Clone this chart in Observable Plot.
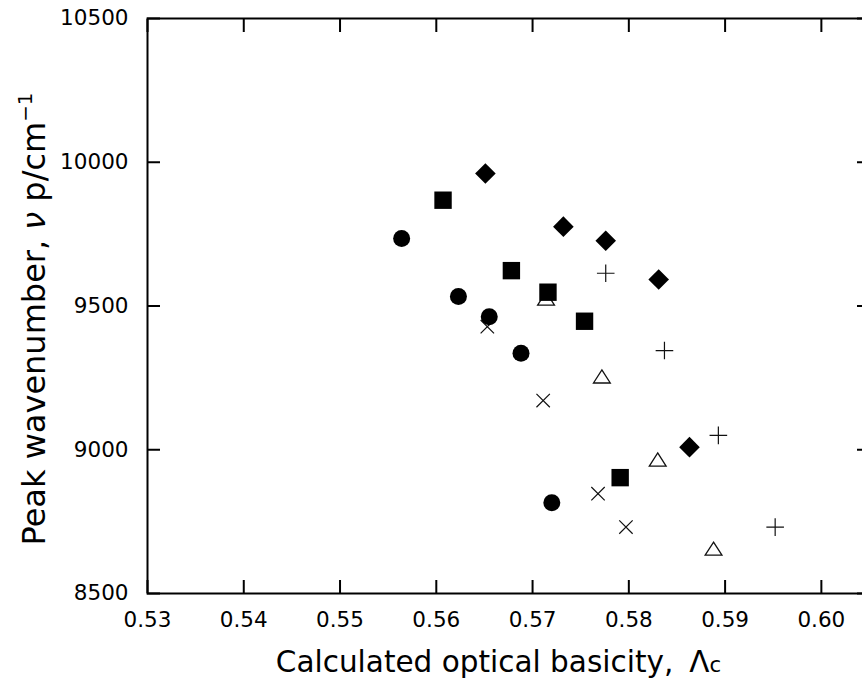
<!DOCTYPE html>
<html><head><meta charset="utf-8">
<script src="https://cdn.jsdelivr.net/npm/d3@7"></script>
<script src="https://cdn.jsdelivr.net/npm/@observablehq/plot@0.6"></script>
<style>
html,body{margin:0;padding:0;background:#fff;overflow:hidden;}
#chart svg{max-width:none !important;display:block;}
</style></head><body><div id="chart"></div>
<script>
const xTicks = [0.53, 0.54, 0.55, 0.56, 0.57, 0.58, 0.59, 0.60];
const yTicks = [8500, 9000, 9500, 10000, 10500];

const circleX = [0.5564, 0.5623, 0.5655, 0.5688, 0.5720];
const circleY = [9735, 9533, 9463, 9336, 8816];
const squareX = [0.5607, 0.5678, 0.5716, 0.5754, 0.5791];
const squareY = [9868, 9623, 9548, 9447, 8903];
const diamondX = [0.5651, 0.5732, 0.5776, 0.5831, 0.5863];
const diamondY = [9961, 9776, 9727, 9592, 9009];
const timesX = [0.5653, 0.5711, 0.5768, 0.5797];
const timesY = [9428, 9171, 8847, 8731];
const triangleX = [0.5714, 0.5772, 0.5830, 0.5888];
const triangleY = [9526, 9255, 8966, 8656];
const plusX = [0.5776, 0.5837, 0.5893, 0.5952];
const plusY = [9614, 9345, 9050, 8731];

const xTitle = "Calculated optical basicity,";
const yTitle = "Peak wavenumber,";

const rows = (xs, ys) => xs.map((x, i) => ({x, y: ys[i]}));

const R = s => Math.sqrt(s / Math.PI);
const symCircle = {draw(c, s) { const r = R(s); c.moveTo(r, 0); c.arc(0, 0, r, 0, 2 * Math.PI); c.closePath(); }};
const symSquare = {draw(c, s) { const r = R(s); c.rect(-r, -r, 2 * r, 2 * r); }};
const symDiamond = {draw(c, s) { const r = R(s); c.moveTo(0, -r); c.lineTo(r, 0); c.lineTo(0, r); c.lineTo(-r, 0); c.closePath(); }};
const symPlus = {draw(c, s) { const r = R(s); c.moveTo(-r, 0); c.lineTo(r, 0); c.moveTo(0, -r); c.lineTo(0, r); }};
const symTimes = {draw(c, s) { const r = R(s); c.moveTo(-r, -r); c.lineTo(r, r); c.moveTo(-r, r); c.lineTo(r, -r); }};
const symTriangle = {draw(c, s) { const r = R(s); const h = r * 0.78; c.moveTo(0, -h); c.lineTo(r, h); c.lineTo(-r, h); c.closePath(); }};

const font = "'DejaVu Sans', sans-serif";
const tickLen = -13;

const svg = Plot.plot({
  width: 880,
  height: 688,
  marginLeft: 147,
  marginRight: 11,
  marginTop: 18,
  marginBottom: 95,
  style: {fontFamily: font, fontSize: "21px", color: "#000", background: "#fff"},
  x: {domain: [0.53, 0.605]},
  y: {domain: [8500, 10500]},
  marks: [
    Plot.frame({strokeWidth: 2}),
    Plot.axisX(xTicks, {anchor: "bottom", tickSize: tickLen, strokeWidth: 2, fill: "none", label: null}),
    Plot.axisX(xTicks, {anchor: "top", tickSize: tickLen, strokeWidth: 2, fill: "none", label: null}),
    Plot.axisY(yTicks, {anchor: "left", tickSize: tickLen, strokeWidth: 2, fill: "none", label: null}),
    Plot.axisY(yTicks, {anchor: "right", tickSize: tickLen, strokeWidth: 2, fill: "none", label: null}),
    Plot.axisX(xTicks, {anchor: "bottom", tickSize: 0, tickPadding: 18, tickFormat: d => d.toFixed(2), fontSize: 21.5, label: null}),
    Plot.axisY(yTicks, {anchor: "left", tickSize: 0, tickPadding: 19, tickFormat: d => String(d), fontSize: 21.5, label: null}),
    Plot.dot(rows(timesX, timesY), {x: "x", y: "y", symbol: symTimes, r: 6.7, fill: "none", stroke: "#111", strokeWidth: 1.2}),
    Plot.dot(rows(triangleX, triangleY), {x: "x", y: "y", symbol: symTriangle, r: 8.4, fill: "#fff", stroke: "#111", strokeWidth: 1.3}),
    Plot.dot(rows(plusX, plusY), {x: "x", y: "y", symbol: symPlus, r: 8.8, fill: "none", stroke: "#111", strokeWidth: 1.2}),
    Plot.dot(rows(circleX, circleY), {x: "x", y: "y", symbol: symCircle, r: 8.5, fill: "#000", stroke: "none"}),
    Plot.dot(rows(squareX, squareY), {x: "x", y: "y", symbol: symSquare, r: 8.7, fill: "#000", stroke: "none"}),
    Plot.dot(rows(diamondX, diamondY), {x: "x", y: "y", symbol: symDiamond, r: 10.3, fill: "#000", stroke: "none"}),
    Plot.text([xTitle], {frameAnchor: "bottom", textAnchor: "middle", dx: -10, dy: 78, text: d => d, fontSize: 29.5, fill: "#000", className: "xtitle"}),
    Plot.text([yTitle], {frameAnchor: "left", textAnchor: "middle", dx: -113, dy: 13, rotate: -90, text: d => d, fontSize: 32, fill: "#000", className: "ytitle"})
  ]
});

// rich text for titles (Greek symbols, sub/superscripts)
const xt = d3.select(svg).select("g.xtitle text");
xt.text(null).style("white-space", "pre");
xt.append("tspan").text(xTitle);
xt.append("tspan").attr("dx", 16).text("Λ");
xt.append("tspan").attr("font-size", "0.72em").text("c");

const yt = d3.select(svg).select("g.ytitle text");
yt.text(null).style("white-space", "pre");
yt.append("tspan").text(yTitle + " ");
yt.append("tspan").attr("font-style", "italic").text("ν");
yt.append("tspan").text(" p/cm");
yt.append("tspan").attr("font-size", "0.62em").attr("dy", "-0.62em").text("−1");

svg.style.maxWidth = "none";
document.getElementById("chart").appendChild(svg);
</script>
</body></html>
